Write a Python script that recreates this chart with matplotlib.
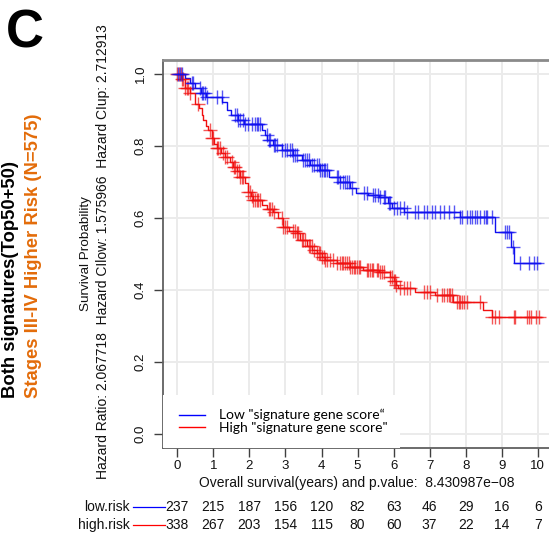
import numpy as np
import matplotlib
matplotlib.use("Agg")
import matplotlib.pyplot as plt
from matplotlib.transforms import blended_transform_factory
from matplotlib.patches import Rectangle
from matplotlib.lines import Line2D

plt.rcParams['font.family'] = ['Liberation Sans', 'DejaVu Sans']

# ---------------- data ----------------
low_time = [0, 0.2, 0.35, 0.5, 0.65, 0.8, 1.25, 1.38, 1.5, 1.68, 1.85, 2.35, 2.42, 2.5, 2.65,
            2.9, 3.2, 3.45, 3.68, 3.95, 4.2, 4.5, 4.8, 4.95, 5.3, 5.6, 5.85, 5.95, 6.3, 7.84,
            8.81, 9.27, 9.33]
low_surv = [1.0, 0.99, 0.975, 0.96, 0.948, 0.937, 0.923, 0.9, 0.886, 0.872, 0.862, 0.845, 0.83,
            0.817, 0.803, 0.789, 0.775, 0.761, 0.747, 0.733, 0.715, 0.701, 0.684, 0.669, 0.664,
            0.657, 0.641, 0.627, 0.617, 0.604, 0.562, 0.52, 0.474]
low_end = 10.06
low_censor = [0.03, 0.07, 0.12, 0.4, 0.44, 0.63, 0.68, 0.72, 0.77, 0.81, 1.09, 1.23, 1.6, 1.65,
              1.69, 1.74, 1.83, 1.88, 1.97, 2.06, 2.16, 2.2, 2.25, 2.3, 2.48, 2.53, 2.57, 2.67,
              2.71, 2.76, 2.9, 2.99, 3.04, 3.13, 3.18, 3.22, 3.27, 3.31, 3.5, 3.55, 3.59, 3.64,
              3.73, 3.78, 3.87, 3.92, 3.96, 4.01, 4.06, 4.1, 4.15, 4.43, 4.47, 4.52, 4.61, 4.66,
              4.7, 4.75, 4.84, 5.17, 5.26, 5.44, 5.49, 5.58, 5.63, 5.72, 5.77, 5.86, 5.9, 6.0,
              6.09, 6.18, 6.28, 6.37, 6.6, 6.69, 6.83, 6.93, 7.06, 7.15, 7.29, 7.39, 7.53, 7.67,
              7.85, 7.9, 8.04, 8.13, 8.18, 8.27, 8.31, 8.41, 8.5, 8.55, 8.59, 8.73, 9.1, 9.15,
              9.19, 9.3, 9.52, 9.75, 9.9, 9.98]

high_time = [0, 0.1, 0.21, 0.35, 0.49, 0.6, 0.68, 0.72, 0.8, 0.86, 0.95, 1.02, 1.09, 1.2, 1.32,
             1.45, 1.55, 1.65, 1.74, 1.88, 1.97, 2.05, 2.11, 2.34, 2.5, 2.66, 2.8, 2.94, 3.1,
             3.31, 3.4, 3.59, 3.75, 3.87, 4.0, 4.1, 4.42, 4.79, 5.16, 5.6, 5.9, 6.0, 6.08, 6.13,
             6.59, 7.15, 7.66, 8.49, 8.72]
high_surv = [1.0, 0.985, 0.96, 0.946, 0.918, 0.905, 0.885, 0.872, 0.855, 0.844, 0.821, 0.805,
             0.794, 0.78, 0.77, 0.755, 0.742, 0.73, 0.715, 0.696, 0.673, 0.66, 0.65, 0.636,
             0.626, 0.617, 0.599, 0.576, 0.565, 0.557, 0.539, 0.522, 0.51, 0.502, 0.492, 0.483,
             0.474, 0.465, 0.456, 0.451, 0.437, 0.425, 0.414, 0.405, 0.395, 0.386, 0.368, 0.344,
             0.326]
high_end = 10.09
high_censor = [0.0, 0.05, 0.09, 0.13, 0.17, 0.21, 0.26, 0.31, 0.35, 0.58, 0.91, 0.95, 1.0, 1.09,
               1.14, 1.19, 1.28, 1.32, 1.37, 1.51, 1.56, 1.6, 1.65, 1.7, 1.74, 1.79, 1.83, 1.97,
               2.02, 2.06, 2.11, 2.16, 2.2, 2.25, 2.3, 2.53, 2.57, 2.62, 2.67, 2.9, 2.94, 2.99,
               3.04, 3.22, 3.27, 3.31, 3.36, 3.45, 3.5, 3.55, 3.64, 3.69, 3.73, 3.78, 3.87, 3.92,
               3.96, 4.01, 4.06, 4.1, 4.15, 4.24, 4.33, 4.43, 4.52, 4.56, 4.61, 4.66, 4.7, 4.75,
               4.8, 4.84, 4.89, 4.94, 4.98, 5.03, 5.07, 5.26, 5.3, 5.35, 5.4, 5.44, 5.54, 5.58,
               5.63, 5.68, 5.72, 5.9, 5.95, 6.0, 6.04, 6.08, 6.19, 6.28, 6.37, 6.46, 6.83, 6.93,
               7.02, 7.2, 7.34, 7.39, 7.48, 7.53, 7.57, 7.62, 7.76, 7.81, 7.85, 7.9, 7.94, 8.04,
               8.4, 8.73, 8.82, 8.92, 9.33, 9.38, 9.7, 9.75, 9.8, 9.94, 10.03]

x_ticks = list(range(0, 11))
y_ticks = [0.0, 0.2, 0.4, 0.6, 0.8, 1.0]
y_tick_labels = ["0.0", "0.2", "0.4", "0.6", "0.8", "1.0"]
low_at_risk = [237, 215, 187, 156, 120, 82, 63, 46, 29, 16, 6]
high_at_risk = [338, 267, 203, 154, 115, 80, 60, 37, 22, 14, 7]

low_color = "#1010F0"
high_color = "#F01010"
orange = "#E36C0A"

# ---------------- figure ----------------
W, H = 549, 534
fig = plt.figure(figsize=(W / 100, H / 100), dpi=100)

def fx(px):
    return px / W

def fy(py):
    return 1 - py / H

ax = fig.add_axes([fx(162.9), fy(448.4), (552.2 - 162.9) / W, (448.4 - 59.6) / H])
ax.set_xlim(-0.4, 10.4)
ax.set_ylim(-0.04, 1.04)

for t in x_ticks:
    ax.axvline(t, color="#EBEBEB", lw=1.4, zorder=0)
for v in y_ticks:
    ax.axhline(v, color="#EBEBEB", lw=1.4, zorder=0)


def step_xy(times, surv, end):
    xs = list(times) + [end]
    ys = list(surv) + [surv[-1]]
    return xs, ys


def surv_at(times, surv, cens):
    idx = np.searchsorted(np.asarray(times), np.asarray(cens), side="right") - 1
    return np.asarray(surv)[idx]


for times, surv, end, cens, col in [(high_time, high_surv, high_end, high_censor, high_color),
                                    (low_time, low_surv, low_end, low_censor, low_color)]:
    xs, ys = step_xy(times, surv, end)
    ax.step(xs, ys, where="post", color=col, lw=1.0, zorder=3)
    ax.plot(cens, surv_at(times, surv, cens), ls="none", marker="+", ms=9.5, mew=1.0,
            color=col, alpha=0.7, zorder=4)

# legend with white box
ax.add_patch(Rectangle((0, 0), (400 - 162.9) / (552.2 - 162.9), (448.4 - 395) / (448.4 - 59.6),
                       transform=ax.transAxes, facecolor="white", edgecolor="none", zorder=5))
handles = [Line2D([], [], color="#0000FF", lw=1.0), Line2D([], [], color="#FF0000", lw=1.0)]
leg = ax.legend(handles, ['Low "signature gene score\u201c', 'High "signature gene score"'],
                loc="lower left", bbox_to_anchor=(fx(172), fy(441)), bbox_transform=fig.transFigure,
                frameon=False, handlelength=1.9, handletextpad=1.0, labelspacing=0.05,
                borderpad=0, prop={"family": ["Lato", "DejaVu Sans"], "size": 10})
leg.set_zorder(6)

for side in ["left", "bottom", "top", "right"]:
    ax.spines[side].set_color("#606060")
    ax.spines[side].set_linewidth(1.3)
ax.spines["top"].set_color("#8A8A8A")
ax.spines["top"].set_linewidth(2.0)

ax.set_xticks(x_ticks)
ax.set_xticklabels([str(t) for t in x_ticks])
ax.set_yticks(y_ticks)
ax.set_yticklabels(y_tick_labels)
ax.tick_params(axis="both", direction="out", length=6.5, width=1.0, color="#404040",
               labelsize=9.5, labelcolor="#111111")
ax.tick_params(axis="x", pad=2)
ax.tick_params(axis="y", pad=5)
for lab in ax.get_yticklabels():
    lab.set_rotation(90)
    lab.set_va("center")
    lab.set_ha("right")

# axis texts
fig.text(fx(357), fy(483), "Overall survival(years) and p.value:  8.430987e\u221208",
         ha="center", va="center", fontsize=10, color="#111111")
fig.text(fx(86), fy(254), "Survival Probability", rotation=90, ha="center", va="center",
         fontsize=9.7, color="#111111")
fig.text(fx(103), fy(252),
         "Hazard Ratio: 2.067718  Hazard CIlow: 1.575966  Hazard CIup: 2.712913",
         rotation=90, ha="center", va="center", fontsize=10, color="#111111")

# risk table
tr = blended_transform_factory(ax.transData, fig.transFigure)
for vals, py, col, name in [(low_at_risk, 507, "#0000FF", "low.risk"),
                            (high_at_risk, 525, "#FF0000", "high.risk")]:
    for t, v in zip(x_ticks, vals):
        ax.text(t, fy(py), str(v), transform=tr, ha="center", va="center", fontsize=10,
                color="#111111", clip_on=False)
    fig.text(fx(130), fy(py), name, ha="right", va="center", fontsize=10, color="#111111")
    fig.add_artist(Line2D([fx(133), fx(165)], [fy(py), fy(py)], color=col, lw=0.9,
                          transform=fig.transFigure))

# left titles
fig.text(fx(25), fy(34), "C", ha="center", va="center", fontsize=38, fontweight="bold",
         color="black")
title_font = ["Liberation Sans", "DejaVu Sans"]
fig.text(fx(10.5), fy(398), "Both signatures(Top50+50)", rotation=90, ha="center", va="bottom",
         fontsize=13.3, fontweight="bold", color="black", family=title_font)
fig.text(fx(34), fy(398), "Stages III-IV Higher Risk (N=575)", rotation=90, ha="center",
         va="bottom", fontsize=13.3, fontweight="bold", color=orange, family=title_font)

fig.savefig("out.png", dpi=100)
